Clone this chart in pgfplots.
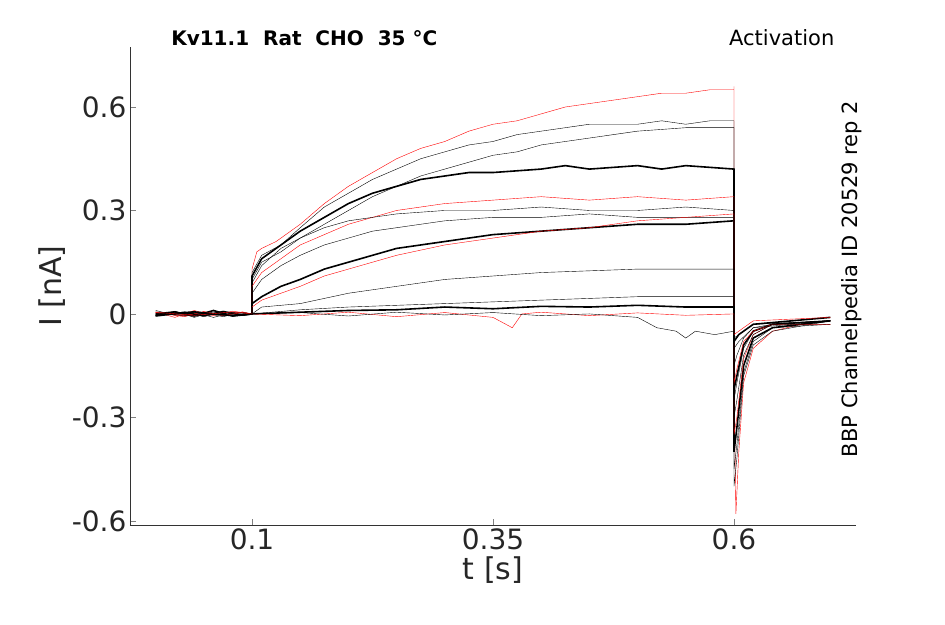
\documentclass[border=0pt]{standalone}
\usepackage{pgfplots}
\pgfplotsset{compat=1.18}
\usepackage{fontspec}
\setmainfont{DejaVu Sans}
\begin{document}
\begin{tikzpicture}
\begin{axis}[
  scale only axis, width=726pt, height=478pt,
  xmin=-0.0266, xmax=0.7266, ymin=-0.612, ymax=0.774,
  axis x line*=bottom, axis y line*=left,
  axis line style={black!80},
  xtick={0.1,0.35,0.6}, xticklabels={0.1,0.35,0.6},
  ytick={-0.6,-0.3,0,0.3,0.6}, yticklabels={-0.6,-0.3,0,0.3,0.6},
  tick align=inside, major tick length=6pt,
  tick label style={font=\fontsize{28}{32}\selectfont, text=black!85},
  xlabel={t [s]}, ylabel={I [nA]},
  label style={font=\fontsize{30}{34}\selectfont, text=black!85},
  cycle list={{red, no markers, solid, line width=1.6pt}},
  clip=false,
]
\addplot coordinates {(0,0.005)(0.02,-0.01)(0.04,0.01)(0.06,-0.005)(0.08,0.008)(0.1,0)(0.1,0.13)(0.105,0.18)(0.11,0.19)(0.125,0.21)(0.15,0.26)(0.175,0.32)(0.2,0.37)(0.225,0.41)(0.25,0.45)(0.275,0.48)(0.3,0.5)(0.325,0.53)(0.35,0.55)(0.375,0.56)(0.4,0.58)(0.425,0.6)(0.45,0.61)(0.475,0.62)(0.5,0.63)(0.525,0.64)(0.55,0.64)(0.575,0.65)(0.6,0.65)(0.6,0.66)(0.6,-0.2)(0.602,-0.58)(0.605,-0.4)(0.61,-0.2)(0.62,-0.1)(0.64,-0.05)(0.67,-0.03)(0.7,-0.03)};
\addplot coordinates {(0,-0.005)(0.02,0.008)(0.04,-0.01)(0.06,0.006)(0.08,-0.004)(0.1,0)(0.1,0.12)(0.11,0.17)(0.13,0.2)(0.15,0.25)(0.175,0.31)(0.2,0.35)(0.225,0.39)(0.25,0.42)(0.275,0.45)(0.3,0.47)(0.325,0.49)(0.35,0.5)(0.375,0.52)(0.4,0.53)(0.425,0.54)(0.45,0.55)(0.5,0.55)(0.525,0.56)(0.55,0.55)(0.575,0.56)(0.6,0.56)(0.6,-0.5)(0.603,-0.42)(0.61,-0.18)(0.62,-0.09)(0.64,-0.05)(0.7,-0.02)};
\addplot coordinates {(0,0.01)(0.02,-0.004)(0.04,0.005)(0.06,-0.01)(0.08,0.004)(0.1,0)(0.1,0.1)(0.11,0.15)(0.13,0.18)(0.15,0.22)(0.175,0.26)(0.2,0.3)(0.225,0.34)(0.25,0.37)(0.275,0.4)(0.3,0.42)(0.325,0.44)(0.35,0.46)(0.375,0.47)(0.4,0.49)(0.425,0.5)(0.45,0.51)(0.475,0.52)(0.5,0.53)(0.55,0.54)(0.575,0.54)(0.6,0.54)(0.6,-0.45)(0.603,-0.38)(0.61,-0.17)(0.62,-0.08)(0.64,-0.04)(0.7,-0.03)};
\addplot coordinates {(0,0)(0.02,0.006)(0.04,-0.006)(0.06,0.01)(0.08,-0.006)(0.1,0)(0.1,0.11)(0.11,0.16)(0.13,0.2)(0.15,0.24)(0.175,0.28)(0.2,0.32)(0.225,0.35)(0.25,0.37)(0.275,0.39)(0.3,0.4)(0.325,0.41)(0.35,0.41)(0.4,0.42)(0.425,0.43)(0.45,0.42)(0.5,0.43)(0.525,0.42)(0.55,0.43)(0.6,0.42)(0.6,-0.4)(0.603,-0.33)(0.61,-0.15)(0.62,-0.07)(0.64,-0.04)(0.7,-0.02)};
\addplot coordinates {(0,0.004)(0.03,-0.008)(0.05,0.007)(0.07,-0.005)(0.09,0.006)(0.1,0)(0.1,0.08)(0.11,0.12)(0.13,0.16)(0.15,0.2)(0.175,0.23)(0.2,0.26)(0.225,0.28)(0.25,0.3)(0.275,0.31)(0.3,0.32)(0.35,0.33)(0.4,0.34)(0.45,0.33)(0.5,0.34)(0.55,0.33)(0.6,0.34)(0.6,-0.35)(0.603,-0.3)(0.61,-0.13)(0.62,-0.06)(0.64,-0.03)(0.7,-0.02)};
\addplot coordinates {(0,-0.004)(0.03,0.006)(0.05,-0.008)(0.07,0.005)(0.09,-0.004)(0.1,0)(0.1,0.09)(0.11,0.14)(0.13,0.19)(0.15,0.22)(0.175,0.25)(0.2,0.27)(0.225,0.28)(0.25,0.29)(0.3,0.3)(0.35,0.3)(0.4,0.31)(0.45,0.3)(0.5,0.3)(0.55,0.31)(0.6,0.3)(0.6,-0.3)(0.603,-0.25)(0.61,-0.12)(0.62,-0.06)(0.64,-0.03)(0.7,-0.03)};
\addplot coordinates {(0,0.006)(0.03,-0.006)(0.05,0.004)(0.07,-0.008)(0.09,0.005)(0.1,0)(0.1,0.06)(0.11,0.1)(0.13,0.14)(0.15,0.17)(0.175,0.2)(0.2,0.22)(0.225,0.24)(0.25,0.25)(0.3,0.27)(0.35,0.28)(0.4,0.28)(0.45,0.29)(0.5,0.28)(0.55,0.28)(0.6,0.28)(0.6,-0.25)(0.603,-0.2)(0.61,-0.1)(0.62,-0.05)(0.64,-0.03)(0.7,-0.02)};
\addplot coordinates {(0,-0.006)(0.03,0.004)(0.05,-0.005)(0.07,0.007)(0.09,-0.003)(0.1,0)(0.1,0.03)(0.11,0.05)(0.13,0.08)(0.15,0.1)(0.175,0.13)(0.2,0.15)(0.225,0.17)(0.25,0.19)(0.3,0.21)(0.35,0.23)(0.4,0.24)(0.45,0.25)(0.5,0.26)(0.55,0.26)(0.6,0.27)(0.6,-0.22)(0.603,-0.18)(0.61,-0.09)(0.62,-0.05)(0.64,-0.03)(0.7,-0.02)};
\addplot coordinates {(0,0.003)(0.03,-0.005)(0.05,0.006)(0.07,-0.004)(0.09,0.004)(0.1,0)(0.1,0.02)(0.11,0.04)(0.13,0.06)(0.15,0.08)(0.175,0.11)(0.2,0.13)(0.225,0.15)(0.25,0.17)(0.3,0.2)(0.35,0.22)(0.4,0.24)(0.45,0.25)(0.5,0.27)(0.55,0.28)(0.6,0.29)(0.6,-0.2)(0.603,-0.16)(0.61,-0.08)(0.62,-0.05)(0.64,-0.03)(0.7,-0.03)};
\addplot coordinates {(0,-0.003)(0.03,0.005)(0.05,-0.004)(0.07,0.006)(0.09,-0.005)(0.1,0)(0.11,0.02)(0.13,0.025)(0.15,0.03)(0.175,0.045)(0.2,0.06)(0.25,0.08)(0.3,0.1)(0.35,0.11)(0.4,0.12)(0.45,0.125)(0.5,0.13)(0.55,0.13)(0.6,0.13)(0.6,-0.15)(0.603,-0.12)(0.61,-0.07)(0.62,-0.04)(0.64,-0.03)(0.7,-0.02)};
\addplot coordinates {(0,0.002)(0.04,-0.006)(0.08,0.005)(0.1,0)(0.15,0.012)(0.2,0.02)(0.25,0.025)(0.3,0.03)(0.35,0.035)(0.4,0.04)(0.45,0.045)(0.5,0.05)(0.55,0.05)(0.6,0.05)(0.6,-0.1)(0.605,-0.08)(0.62,-0.04)(0.7,-0.02)};
\addplot coordinates {(0,-0.002)(0.04,0.006)(0.08,-0.005)(0.1,0)(0.15,0.005)(0.2,0.01)(0.25,0.012)(0.3,0.02)(0.35,0.015)(0.4,0.022)(0.45,0.02)(0.5,0.025)(0.55,0.02)(0.6,0.02)(0.6,-0.08)(0.605,-0.06)(0.62,-0.03)(0.7,-0.01)};
\addplot coordinates {(0,0.005)(0.04,-0.004)(0.08,0.006)(0.1,0)(0.15,-0.005)(0.2,0.005)(0.25,-0.008)(0.3,0.004)(0.35,-0.01)(0.37,-0.04)(0.38,0)(0.4,0.005)(0.45,-0.005)(0.5,0.003)(0.55,-0.004)(0.6,0)(0.6,-0.06)(0.605,-0.05)(0.62,-0.02)(0.7,-0.01)};
\addplot coordinates {(0,-0.005)(0.04,0.004)(0.08,-0.006)(0.1,0)(0.15,0.004)(0.2,-0.006)(0.25,0.005)(0.3,-0.003)(0.35,0.004)(0.4,-0.005)(0.45,0)(0.5,-0.01)(0.52,-0.04)(0.54,-0.05)(0.55,-0.07)(0.56,-0.05)(0.58,-0.06)(0.6,-0.05)(0.6,-0.07)(0.605,-0.06)(0.62,-0.03)(0.7,-0.02)};
\node[anchor=base west, font=\bfseries\fontsize{20}{24}\selectfont] at ([yshift=1pt]rel axis cs:0.052,1.0) {Kv11.1\ \ Rat\ \ CHO\ \ 35 °C};
\node[anchor=base east, font=\fontsize{21}{24}\selectfont] at ([yshift=1pt]rel axis cs:0.975,1.0) {Activation};
\node[rotate=90, anchor=north east, font=\fontsize{21}{24}\selectfont] at (rel axis cs:0.975,0.895) {BBP Channelpedia ID 20529 rep 2};
\end{axis}
\useasboundingbox ([xshift=-130pt,yshift=-99pt]current axis.south west) rectangle ([xshift=89pt,yshift=47pt]current axis.north east);
\end{tikzpicture}
\end{document}
